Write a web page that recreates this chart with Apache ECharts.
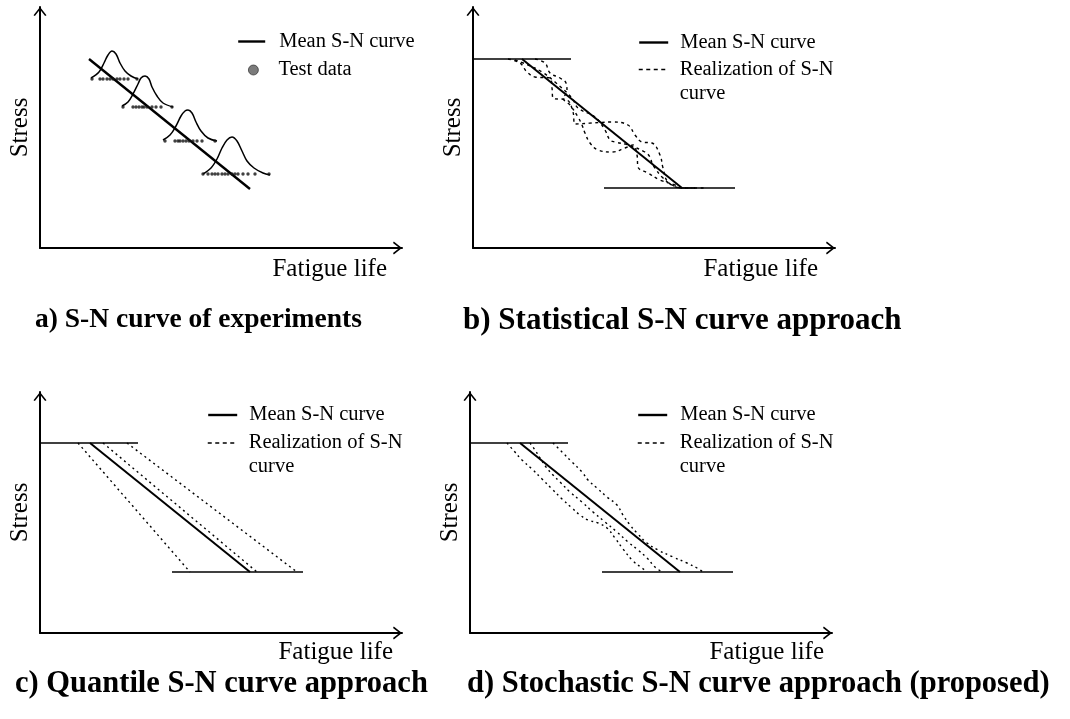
<!DOCTYPE html>
<html>
<head>
<meta charset="utf-8">
<script src="https://cdn.jsdelivr.net/npm/echarts@6/dist/echarts.min.js"></script>
<style>
  html, body { margin: 0; padding: 0; background: #fff; }
  #chart { width: 1070px; height: 719px; }
</style>
</head>
<body>
<div id="chart"></div>
<script>
// ---- Schematic S-N data (arbitrary units: life along x, stress along y) ----

// a) experiments: mean curve, scatter bands at four stress levels
const aMean = [[49, 189], [210, 59]];
const aPdf1 = [[51,170],[59,176],[64,185],[68,193],[72,197],[76,194],[80,185],[85,177],[91,172],[98,169]];
const aPdf2 = [[82,142],[88,146],[93,154],[98,164],[101,170],[105,172],[109,169],[112,161],[117,152],[123,145],[133,141]];
const aPdf3 = [[123,108],[130,113],[136,122],[141,132],[145,137],[148,138],[152,135],[156,126],[161,117],[168,110],[177,107]];
const aPdf4 = [[163,74],[171,80],[177,89],[182,100],[187,108],[192,111],[197,107],[202,97],[207,87],[214,80],[223,75],[230,73]];
const aTestStress = [169, 141, 107, 74];
const aTestLife = [
  [52, 60, 63, 67, 70, 73, 77, 80, 84, 88, 97],
  [83, 93, 96, 99, 102, 104, 107, 112, 116, 121, 132],
  [125, 135, 138, 140, 143, 146, 149, 153, 157, 162, 175],
  [163, 168, 172, 175, 178, 182, 185, 188, 192, 195, 198, 203, 208, 215, 229]
];

// b) statistical approach: bounded mean curve with wandering realizations
const bUpper = [[0, 189], [98, 189]];
const bLower = [[131, 60], [262, 60]];
const bMean = [[49, 189], [209, 60]];
const bReal1 = [[35,189],[47,185],[54,176],[62,171],[77,170],[79,160],[80,150],[94,148],[100,136],[102,124],[119,125],[139,126],[155,123],[162,113],[169,106],[179,105],[187,93],[190,80],[195,66],[209,60],[232,60]];
const bReal2 = [[62,189],[72,185],[77,175],[87,170],[93,165],[94,156],[90,150],[97,143],[105,131],[109,123],[112,115],[117,105],[125,98],[139,96],[152,100],[160,103],[164,93],[165,81],[175,75],[187,68],[202,63],[209,60],[222,60]];
const bReal3 = [[42,188],[55,183],[69,176],[82,166],[99,150],[105,140],[122,131],[132,118],[137,108],[142,106],[155,103],[172,96],[177,91],[179,85],[182,80],[189,71],[199,63],[209,60],[219,60]];

// c) quantile approach: straight shifted curves
const cUpper = [[0, 190], [98, 190]];
const cLower = [[132, 61], [263, 61]];
const cMean = [[50, 190], [210, 61]];
const cQuant1 = [[38, 190], [150, 61]];
const cQuant2 = [[63, 190], [217, 61]];
const cQuant3 = [[87, 190], [257, 61]];

// d) stochastic approach: smoothly varying realizations
const dUpper = [[0, 190], [98, 190]];
const dLower = [[132, 61], [263, 61]];
const dMean = [[50, 190], [210, 61]];
const dReal1 = [[37,190],[44,182],[52,173],[62,164],[72,154],[82,144],[92,134],[102,125],[110,118],[118,113],[128,110],[137,105],[145,95],[153,84],[163,72],[172,65],[177,61]];
const dReal2 = [[60,190],[65,183],[70,175],[76,166],[83,158],[90,151],[100,141],[112,131],[123,121],[135,111],[147,101],[158,91],[168,83],[177,75],[185,66],[192,61]];
const dReal3 = [[83,190],[92,181],[102,171],[112,161],[118,153],[127,145],[137,136],[147,128],[153,118],[160,108],[167,100],[177,90],[188,83],[203,76],[217,70],[227,65],[233,61]];

// Text
const captions = [
  'a) S-N curve of experiments',
  'b) Statistical S-N curve approach',
  'c) Quantile S-N curve approach',
  'd) Stochastic S-N curve approach (proposed)'
];
const xName = 'Fatigue life';
const yName = 'Stress';
const MEAN = 'Mean S-N curve';
const TEST = 'Test data';
const REAL = 'Realization of S-N curve';
const REAL_LINES = ['Realization of S-N', 'curve'];

// ---- Layout and style ----
const SERIF = '"Liberation Serif", "Times New Roman", serif';
const INK = '#000';
const ARROW = 'path://M6.5,0 L13,8.2 L11.6,9 L6.5,2.6 L1.4,9 L0,8.2 Z';

const panels = [
  { left: 40,  top: 7,   width: 362, height: 241, nameShift: -15, namePad: 8.5 },
  { left: 473, top: 7,   width: 362, height: 241, nameShift: -17, namePad: 8.5 },
  { left: 40,  top: 392, width: 362, height: 241, nameShift: -9,  namePad: 6.5 },
  { left: 470, top: 392, width: 362, height: 241, nameShift: -8,  namePad: 6.5 }
];

const axisLine = {
  show: true, onZero: false,
  symbol: ['none', ARROW], symbolSize: [13, 9], symbolOffset: [0, -4.5],
  lineStyle: { color: INK, width: 2 }
};

const grid = panels.map(p => ({
  left: p.left, top: p.top, width: p.width, height: p.height, outerBoundsMode: 'none'
}));

const xAxis = panels.map((p, i) => ({
  type: 'value', gridIndex: i, min: 0, max: p.width,
  name: xName, nameLocation: 'end', nameGap: p.nameShift,
  nameTextStyle: {
    fontFamily: SERIF, fontSize: 25, lineHeight: 25, color: INK,
    align: 'right', verticalAlign: 'top', padding: [p.namePad, 0, 0, 0]
  },
  axisLine: axisLine, axisTick: { show: false }, axisLabel: { show: false }, splitLine: { show: false }
}));

const yAxis = panels.map((p, i) => ({
  type: 'value', gridIndex: i, min: 0, max: p.height,
  name: yName, nameLocation: 'middle', nameRotate: 90, nameGap: 7.5,
  nameTextStyle: { fontFamily: SERIF, fontSize: 25, lineHeight: 25, color: INK },
  axisLine: axisLine, axisTick: { show: false }, axisLabel: { show: false }, splitLine: { show: false }
}));

function curve(panel, data, opts) {
  opts = opts || {};
  return {
    type: 'line', name: opts.name, xAxisIndex: panel, yAxisIndex: panel,
    data: data, symbol: 'none', silent: true, clip: false,
    smooth: opts.smooth || false,
    z: opts.z || 2,
    lineStyle: { color: INK, width: opts.width || 1.5, type: opts.type || 'solid' }
  };
}

const DASH_B = [3, 3.5];
const DOT_CD = [2, 3.5];

const testPoints = [];
aTestLife.forEach((row, k) => row.forEach(x => testPoints.push([x, aTestStress[k]])));

const series = [
  // a
  curve(0, aMean, { name: MEAN, width: 2.4, z: 3 }),
  curve(0, aPdf1, { smooth: 0.35, width: 1.5 }),
  curve(0, aPdf2, { smooth: 0.35, width: 1.5 }),
  curve(0, aPdf3, { smooth: 0.35, width: 1.5 }),
  curve(0, aPdf4, { smooth: 0.35, width: 1.5 }),
  {
    type: 'scatter', name: TEST, xAxisIndex: 0, yAxisIndex: 0, silent: true,
    data: testPoints, symbolSize: 3.4, itemStyle: { color: '#111' }, z: 4
  },
  // b
  curve(1, bUpper, { width: 1.6 }),
  curve(1, bLower, { width: 1.6 }),
  curve(1, bReal1, { name: REAL, smooth: 0.4, width: 1.4, type: DASH_B }),
  curve(1, bReal2, { name: REAL, smooth: 0.4, width: 1.4, type: DASH_B }),
  curve(1, bReal3, { name: REAL, smooth: 0.4, width: 1.4, type: DASH_B }),
  curve(1, bMean, { name: MEAN, width: 2, z: 3 }),
  // c
  curve(2, cUpper, { width: 1.6 }),
  curve(2, cLower, { width: 1.6 }),
  curve(2, cQuant1, { name: REAL, width: 1.4, type: DOT_CD }),
  curve(2, cQuant2, { name: REAL, width: 1.4, type: DOT_CD }),
  curve(2, cQuant3, { name: REAL, width: 1.4, type: DOT_CD }),
  curve(2, cMean, { name: MEAN, width: 2, z: 3 }),
  // d
  curve(3, dUpper, { width: 1.6 }),
  curve(3, dLower, { width: 1.6 }),
  curve(3, dReal1, { name: REAL, smooth: 0.4, width: 1.4, type: DOT_CD }),
  curve(3, dReal2, { name: REAL, smooth: 0.4, width: 1.4, type: DOT_CD }),
  curve(3, dReal3, { name: REAL, smooth: 0.4, width: 1.4, type: DOT_CD }),
  curve(3, dMean, { name: MEAN, width: 2, z: 3 })
];

// One legend row per entry so each row sits exactly where it belongs.
// The wrapped label gets a blank leading line so its first line centres on the icon.
const LEG_FONT = 20.5, LEG_LH = 24;
function legendRow(name, left, top, o) {
  const row = {
    left: left, top: top, padding: 0, orient: 'horizontal', selectedMode: false,
    itemWidth: o.iconW, itemHeight: o.iconH || 14,
    data: [name],
    textStyle: {
      fontFamily: SERIF, fontSize: LEG_FONT, lineHeight: LEG_LH, color: INK,
      padding: [0, 0, 0, o.padL]
    }
  };
  if (o.twoLine) row.formatter = () => ' \n' + REAL_LINES.join('\n');
  if (o.dot) {
    row.itemStyle = { color: '#5a5a5a', borderColor: '#222', borderWidth: 0.8 };
  } else {
    row.itemStyle = { opacity: 0 };
    row.lineStyle = o.dash ? { type: [4, 3.5], width: 1.5, color: INK } : { type: 'solid', width: 2.4, color: INK };
  }
  return row;
}

const legend = [
  legendRow(MEAN, 237, 29.5, { iconW: 27, padL: 9 }),
  legendRow(TEST, 248, 58, { iconW: 10, iconH: 10, padL: 15, dot: true }),
  legendRow(MEAN, 638, 30.5, { iconW: 29, padL: 7 }),
  legendRow(REAL, 638, 33.5, { iconW: 29, padL: 7, twoLine: true, dash: true }),
  legendRow(MEAN, 207, 403, { iconW: 29, padL: 7 }),
  legendRow(REAL, 207, 407, { iconW: 29, padL: 7, twoLine: true, dash: true }),
  legendRow(MEAN, 637, 403, { iconW: 29, padL: 8 }),
  legendRow(REAL, 637, 407, { iconW: 29, padL: 8, twoLine: true, dash: true })
];

const captionPos = [
  { left: 35,  top: 306.5, size: 27.5 },
  { left: 463, top: 305.5, size: 31 },
  { left: 15,  top: 669,   size: 30.5 },
  { left: 467, top: 669,   size: 30.5 }
];
const title = captions.map((t, i) => ({
  text: t, left: captionPos[i].left, top: captionPos[i].top, padding: 0,
  textStyle: {
    fontFamily: SERIF, fontWeight: 'bold', fontSize: captionPos[i].size,
    lineHeight: captionPos[i].size, color: INK
  }
}));

const chart = echarts.init(document.getElementById('chart'), null, { renderer: 'canvas' });
chart.setOption({
  backgroundColor: '#fff',
  animation: false,
  title: title,
  legend: legend,
  grid: grid,
  xAxis: xAxis,
  yAxis: yAxis,
  series: series
});
</script>
</body>
</html>
